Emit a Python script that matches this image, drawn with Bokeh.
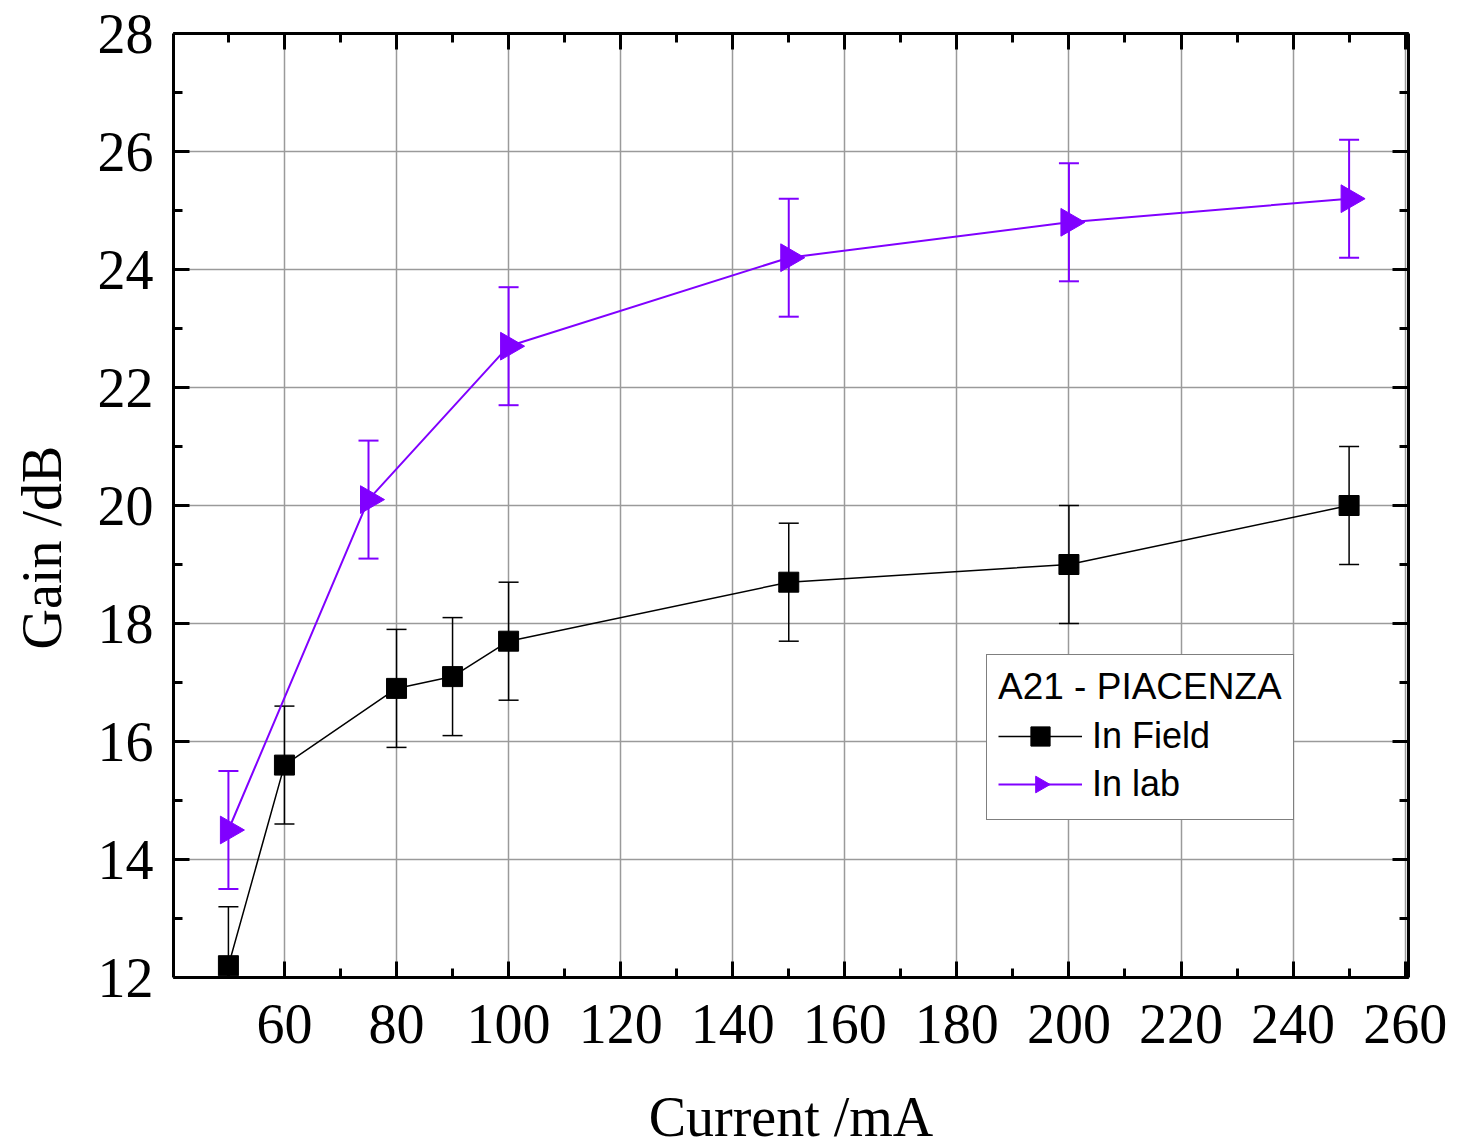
import math
from bokeh.plotting import figure
from bokeh.models import (ColumnDataSource, Whisker, TeeHead, LinearAxis, Range1d,
                          Legend, LegendItem, SingleIntervalTicker)
from bokeh.embed import file_html
from bokeh.resources import INLINE

# ---- data ----
field_x = [50, 60, 80, 90, 100, 150, 200, 250]
field_y = [12.2, 15.6, 16.9, 17.1, 17.7, 18.7, 19.0, 20.0]
field_err = [1.0, 1.0, 1.0, 1.0, 1.0, 1.0, 1.0, 1.0]

lab_x = [50, 75, 100, 150, 200, 250]
lab_y = [14.5, 20.1, 22.7, 24.2, 24.8, 25.2]
lab_err = [1.0, 1.0, 1.0, 1.0, 1.0, 1.0]

x_label = "Current /mA"
y_label = "Gain /dB"
legend_title = "A21 - PIACENZA"
names = ["In Field", "In lab"]

PURPLE = "#8000ff"
SERIF = "Liberation Serif"
SANS = "Liberation Sans"

p = figure(output_backend="svg", toolbar_location=None,
           frame_width=1235, frame_height=944,
           x_range=Range1d(40.2, 260.6), y_range=Range1d(12, 28),
           x_axis_location=None, y_axis_location=None,
           min_border_left=173, min_border_top=33, min_border_right=45,
           min_border_bottom=168)
p.outline_line_color = None
p.background_fill_color = "white"
p.border_fill_color = "white"

xt = SingleIntervalTicker(interval=20, num_minor_ticks=2)
yt = SingleIntervalTicker(interval=2, num_minor_ticks=2)


def make_axis(ticker, labels=True, label_text=None):
    ax = LinearAxis(ticker=ticker)
    ax.axis_line_width = 3
    ax.axis_line_color = "black"
    ax.major_tick_in = 16
    ax.major_tick_out = 0
    ax.minor_tick_in = 9
    ax.minor_tick_out = 0
    ax.major_tick_line_width = 3
    ax.minor_tick_line_width = 3
    ax.major_tick_line_color = "black"
    ax.minor_tick_line_color = "black"
    if labels:
        ax.major_label_text_font = SERIF
        ax.major_label_text_font_size = "56px"
        ax.major_label_text_color = "black"
    else:
        ax.major_label_text_font_size = "0px"
        ax.major_label_standoff = 0
    if label_text:
        ax.axis_label = label_text
        ax.axis_label_text_font = SERIF
        ax.axis_label_text_font_size = "56px"
        ax.axis_label_text_font_style = "normal"
        ax.axis_label_text_color = "black"
    return ax


xb = make_axis(xt, True, x_label)
xb.major_label_standoff = 27
xb.axis_label_standoff = 40
xb.major_label_overrides = {40: ""}
yl = make_axis(yt, True, y_label + "\u00a0" * 6)
yl.major_label_standoff = 20
yl.axis_label_standoff = 22
xa = make_axis(xt, False)
yr = make_axis(yt, False)

p.add_layout(xb, "below")
p.add_layout(yl, "left")
p.add_layout(xa, "above")
p.add_layout(yr, "right")

p.xgrid.ticker = xt
p.ygrid.ticker = yt
p.xgrid.grid_line_color = "#9a9a9a"
p.ygrid.grid_line_color = "#9a9a9a"
p.xgrid.grid_line_width = 1.5
p.ygrid.grid_line_width = 1.5

fsrc = ColumnDataSource(dict(x=field_x, y=field_y,
                             lo=[a - b for a, b in zip(field_y, field_err)],
                             hi=[a + b for a, b in zip(field_y, field_err)]))
lsrc = ColumnDataSource(dict(x=lab_x, y=lab_y,
                             lo=[a - b for a, b in zip(lab_y, lab_err)],
                             hi=[a + b for a, b in zip(lab_y, lab_err)]))

wf = Whisker(base="x", lower="lo", upper="hi", source=fsrc,
             line_color="black", line_width=1.5,
             upper_head=TeeHead(size=20, line_color="black", line_width=1.5),
             lower_head=TeeHead(size=20, line_color="black", line_width=1.5),
             level="underlay")
wl = Whisker(base="x", lower="lo", upper="hi", source=lsrc,
             line_color=PURPLE, line_width=2,
             upper_head=TeeHead(size=20, line_color=PURPLE, line_width=2),
             lower_head=TeeHead(size=20, line_color=PURPLE, line_width=2),
             level="underlay")
p.add_layout(wf)
p.add_layout(wl)

lf = p.line("x", "y", source=fsrc, line_color="black", line_width=1.5)
sf = p.scatter("x", "y", source=fsrc, marker="square", size=20,
               fill_color="black", line_color="black")
ll = p.line("x", "y", source=lsrc, line_color=PURPLE, line_width=2)
sl = p.ngon("x", "y", source=lsrc, radius=16, radius_units="screen", n=3,
            angle=-math.pi / 2, fill_color=PURPLE, line_color=PURPLE)

legend = Legend(items=[LegendItem(label=names[0], renderers=[lf, sf], index=0),
                       LegendItem(label=names[1], renderers=[ll, sl], index=0)],
                location=(813, 157))
legend.title = legend_title
legend.title_text_font = SANS
legend.title_text_font_size = "37px"
legend.title_text_font_style = "normal"
legend.title_text_color = "black"
legend.title_standoff = 4
legend.label_text_font = SANS
legend.label_text_font_size = "36px"
legend.label_text_color = "black"
legend.glyph_width = 84
legend.glyph_height = 48
legend.label_height = 48
legend.label_standoff = 10
legend.spacing = 0
legend.padding = 11
legend.margin = 0
legend.border_line_color = "black"
legend.border_line_width = 1.5
legend.background_fill_alpha = 1.0
p.add_layout(legend, "center")

open("out.html", "w").write(file_html(p, INLINE))
